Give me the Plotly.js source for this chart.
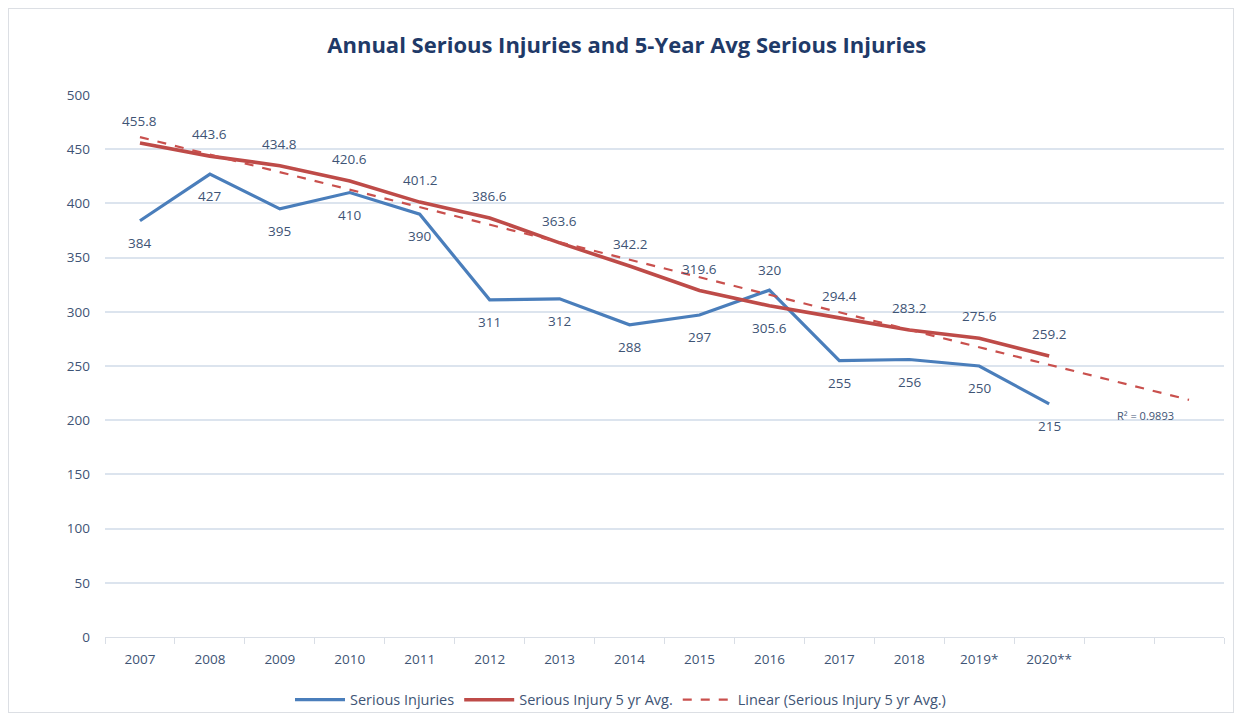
<!DOCTYPE html>
<html>
<head>
<meta charset="utf-8">
<script src="https://cdn.plot.ly/plotly-3.0.1.min.js"></script>
<style>
  html, body { margin: 0; padding: 0; background: #fff; }
  #frame { position: absolute; left: 8px; top: 8px; width: 1224px; height: 703px; border: 1px solid #DCDFE4; }
  #chart { position: absolute; left: 0; top: 0; width: 1241px; height: 717px; }
</style>
</head>
<body>
<div id="frame"></div>
<div id="chart"></div>
<script>
// Category labels (two trailing blank slots for the trendline forecast)
const categories = ["2007", "2008", "2009", "2010", "2011", "2012", "2013", "2014",
                    "2015", "2016", "2017", "2018", "2019*", "2020**", " ", "  "];
const dataYears = categories.slice(0, 14);
const seriousInjuries = [384, 427, 395, 410, 390, 311, 312, 288, 297, 320, 255, 256, 250, 215];
const fiveYrAvg = [455.8, 443.6, 434.8, 420.6, 401.2, 386.6, 363.6, 342.2, 319.6, 305.6, 294.4, 283.2, 275.6, 259.2];
const seriousLabelPos = ["below","below","below","below","below","below","below","below","below","above","below","below","below","below"];
const avgLabelPos =     ["above","above","above","above","above","above","above","above","above","below","above","above","above","above"];
const rSquaredText = "R\u00B2 = 0.9893";

// Excel-style linear trendline on the 5-yr average (least squares), forecast forward 2 periods
const n = fiveYrAvg.length;
const xs = fiveYrAvg.map((_, i) => i + 1);
const mx = xs.reduce((a, b) => a + b, 0) / n;
const my = fiveYrAvg.reduce((a, b) => a + b, 0) / n;
let sxy = 0, sxx = 0;
for (let i = 0; i < n; i++) { sxy += (xs[i] - mx) * (fiveYrAvg[i] - my); sxx += (xs[i] - mx) ** 2; }
const slope = sxy / sxx, intercept = my - slope * mx;
const trendX = [categories[0], categories[categories.length - 1]];
const trendY = [intercept + slope * 1, intercept + slope * categories.length];

const textColor = "#3E5475";
const fontFam = "'Open Sans', Lato, sans-serif";

const traces = [
  { x: dataYears, y: seriousInjuries, type: "scatter", mode: "lines", name: "Serious Injuries",
    line: { color: "#4A7EBB", width: 3.2 }, hoverinfo: "x+y" },
  { x: dataYears, y: fiveYrAvg, type: "scatter", mode: "lines", name: "Serious Injury 5 yr Avg.",
    line: { color: "#BE4B48", width: 3.6 }, hoverinfo: "x+y" },
  { x: trendX, y: trendY, type: "scatter", mode: "lines", name: "Linear (Serious Injury 5 yr Avg.)",
    line: { color: "#C9504D", width: 2.2, dash: "dash" }, hoverinfo: "skip" }
];

const annotations = [];
dataYears.forEach((c, i) => {
  // numeric index = category position on a category axis
  annotations.push({ x: i, y: seriousInjuries[i], xref: "x", yref: "y", text: String(seriousInjuries[i]),
    showarrow: false, yshift: seriousLabelPos[i] === "below" ? -22 : 20,
    font: { family: fontFam, size: 13.5, color: textColor } });
  annotations.push({ x: i, y: fiveYrAvg[i], xref: "x", yref: "y", text: fiveYrAvg[i].toFixed(1),
    showarrow: false, yshift: avgLabelPos[i] === "above" ? 22 : -22,
    font: { family: fontFam, size: 13.5, color: textColor } });
});
annotations.push({ x: 14, y: 200, xref: "x", yref: "y", text: rSquaredText, showarrow: false,
  xshift: 26, yshift: 5, font: { family: fontFam, size: 11, color: textColor } });

const layout = {
  width: 1241, height: 717,
  margin: { l: 105, r: 17, t: 95, b: 80 },
  paper_bgcolor: "rgba(0,0,0,0)", plot_bgcolor: "rgba(0,0,0,0)",
  title: { text: "<b>Annual Serious Injuries and 5-Year Avg Serious Injuries</b>",
           x: 0.505, xanchor: "center", y: 0.937, yanchor: "middle",
           font: { family: fontFam, size: 22, color: "#1F3A68" } },
  xaxis: { type: "category", categoryorder: "array", categoryarray: categories,
           tickmode: "array", tickvals: categories, ticktext: categories,
           range: [-0.5, 15.5], tickson: "boundaries", ticks: "outside", ticklen: 6,
           tickcolor: "#D9DEE6", showline: true, linecolor: "#D9DEE6", linewidth: 1,
           showgrid: false, zeroline: false, fixedrange: true, ticklabelstandoff: 10, automargin: false,
           tickfont: { family: fontFam, size: 13.5, color: textColor } },
  yaxis: { range: [0, 500], tick0: 0, dtick: 50, showgrid: true, gridcolor: "#DCE4EE", gridwidth: 1.5,
           zeroline: false, showline: false, ticks: "", ticklabelstandoff: 14, fixedrange: true, automargin: false,
           tickfont: { family: fontFam, size: 13.5, color: textColor } },
  showlegend: true,
  legend: { orientation: "h", x: 0.5, xref: "container", xanchor: "center", y: 0.024, yref: "container", yanchor: "middle",
            font: { family: fontFam, size: 14.5, color: textColor }, itemwidth: 50, traceorder: "normal" },
  annotations: annotations
};

Plotly.newPlot("chart", traces, layout, { displayModeBar: false });
</script>
</body>
</html>
